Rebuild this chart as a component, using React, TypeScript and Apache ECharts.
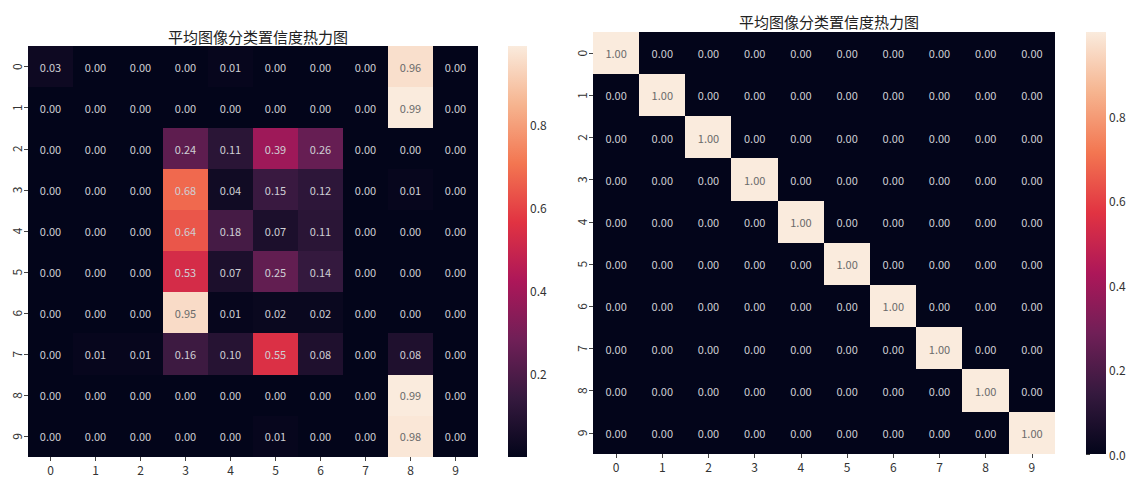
import React, { useEffect, useRef } from "react";
import * as echarts from "echarts";

const TITLE = "平均图像分类置信度热力图";
const classLabels = ["0", "1", "2", "3", "4", "5", "6", "7", "8", "9"];

const leftMatrix: number[][] = [
  [0.03, 0.0, 0.0, 0.0, 0.01, 0.0, 0.0, 0.0, 0.96, 0.0],
  [0.0, 0.0, 0.0, 0.0, 0.0, 0.0, 0.0, 0.0, 0.99, 0.0],
  [0.0, 0.0, 0.0, 0.24, 0.11, 0.39, 0.26, 0.0, 0.0, 0.0],
  [0.0, 0.0, 0.0, 0.68, 0.04, 0.15, 0.12, 0.0, 0.01, 0.0],
  [0.0, 0.0, 0.0, 0.64, 0.18, 0.07, 0.11, 0.0, 0.0, 0.0],
  [0.0, 0.0, 0.0, 0.53, 0.07, 0.25, 0.14, 0.0, 0.0, 0.0],
  [0.0, 0.0, 0.0, 0.95, 0.01, 0.02, 0.02, 0.0, 0.0, 0.0],
  [0.0, 0.01, 0.01, 0.16, 0.1, 0.55, 0.08, 0.0, 0.08, 0.0],
  [0.0, 0.0, 0.0, 0.0, 0.0, 0.0, 0.0, 0.0, 0.99, 0.0],
  [0.0, 0.0, 0.0, 0.0, 0.0, 0.01, 0.0, 0.0, 0.98, 0.0],
];

const rightMatrix: number[][] = [
  [1, 0, 0, 0, 0, 0, 0, 0, 0, 0],
  [0, 1, 0, 0, 0, 0, 0, 0, 0, 0],
  [0, 0, 1, 0, 0, 0, 0, 0, 0, 0],
  [0, 0, 0, 1, 0, 0, 0, 0, 0, 0],
  [0, 0, 0, 0, 1, 0, 0, 0, 0, 0],
  [0, 0, 0, 0, 0, 1, 0, 0, 0, 0],
  [0, 0, 0, 0, 0, 0, 1, 0, 0, 0],
  [0, 0, 0, 0, 0, 0, 0, 1, 0, 0],
  [0, 0, 0, 0, 0, 0, 0, 0, 1, 0],
  [0, 0, 0, 0, 0, 0, 0, 0, 0, 1],
];

const leftRange = [0, 0.99];
const rightRange = [0, 1.0];
const leftColorbarTicks = [0.2, 0.4, 0.6, 0.8];
const rightColorbarTicks = [0.0, 0.2, 0.4, 0.6, 0.8];

const ROCKET = [
  "#03051a",
  "#35193e",
  "#701f57",
  "#ad1759",
  "#e13342",
  "#f37651",
  "#f6b48f",
  "#faebdd",
];

const FONT = "'Noto Sans CJK SC', 'Noto Sans', sans-serif";

function buildData(m: number[][], vmax: number) {
  const out: any[] = [];
  m.forEach((row, y) =>
    row.forEach((v, x) => {
      const light = v / vmax > 0.78;
      out.push({
        value: [x, y, v],
        label: { color: light ? "#6a6a6a" : "#cfcfd4" },
      });
    })
  );
  return out;
}

export default function App() {
  const ref = useRef<HTMLDivElement>(null);
  useEffect(() => {
    if (!ref.current) return;
    const chart = echarts.init(ref.current, undefined, { renderer: "svg" });

    const grids = [
      { left: 28, top: 46, width: 450, height: 411 },
      { left: 508, top: 46, width: 19, height: 411 },
      { left: 593, top: 32, width: 462, height: 422 },
      { left: 1086, top: 32, width: 20, height: 422 },
    ];

    const tickStyle = { show: true, length: 4, lineStyle: { color: "#444", width: 1 } };
    const labelStyle = { color: "#333", fontSize: 12, fontFamily: FONT };

    const heatX = (gi: number) => ({
      type: "category",
      gridIndex: gi,
      data: classLabels,
      axisLine: { show: false },
      axisTick: { ...tickStyle, alignWithLabel: true },
      axisLabel: { ...labelStyle, margin: 6 },
      splitArea: { show: false },
    });
    const heatY = (gi: number) => ({
      type: "category",
      gridIndex: gi,
      data: classLabels,
      inverse: true,
      axisLine: { show: false },
      axisTick: { ...tickStyle, alignWithLabel: true },
      axisLabel: { ...labelStyle, rotate: 90, margin: 6 },
      splitArea: { show: false },
    });
    const cbX = (gi: number) => ({
      type: "value",
      gridIndex: gi,
      show: false,
      min: 0,
      max: 1,
    });
    const cbY = (gi: number, range: number[], ticks: number[]) => ({
      type: "value",
      gridIndex: gi,
      position: "right",
      min: range[0],
      max: range[1],
      axisLine: { show: false },
      splitLine: { show: false },
      axisTick: { ...tickStyle, customValues: ticks },
      axisLabel: {
        ...labelStyle,
        margin: 3,
        customValues: ticks,
        formatter: (v: number) => v.toFixed(1),
      },
    });

    const gradientRect = (params: any) => {
      const cs = params.coordSys;
      return {
        type: "rect",
        shape: { x: cs.x, y: cs.y, width: cs.width, height: cs.height },
        style: {
          fill: new echarts.graphic.LinearGradient(
            0,
            1,
            0,
            0,
            ROCKET.map((c, i) => ({ offset: i / (ROCKET.length - 1), color: c }))
          ),
        },
      };
    };

    const heatLabel = {
      show: true,
      fontSize: 11,
      fontFamily: FONT,
      formatter: (p: any) => Number(p.value[2]).toFixed(2),
    };

    chart.setOption({
      animation: false,
      backgroundColor: "#ffffff",
      title: [
        {
          text: TITLE,
          left: 253,
          top: 24,
          textAlign: "center",
          textStyle: { fontSize: 15, fontWeight: "normal", color: "#222", fontFamily: FONT },
        },
        {
          text: TITLE,
          left: 824,
          top: 9,
          textAlign: "center",
          textStyle: { fontSize: 15, fontWeight: "normal", color: "#222", fontFamily: FONT },
        },
      ],
      grid: grids,
      xAxis: [heatX(0), cbX(1), heatX(2), cbX(3)],
      yAxis: [
        heatY(0),
        cbY(1, leftRange, leftColorbarTicks),
        heatY(2),
        cbY(3, rightRange, rightColorbarTicks),
      ],
      visualMap: [
        {
          type: "continuous",
          show: false,
          seriesIndex: 0,
          min: leftRange[0],
          max: leftRange[1],
          inRange: { color: ROCKET },
        },
        {
          type: "continuous",
          show: false,
          seriesIndex: 2,
          min: rightRange[0],
          max: rightRange[1],
          inRange: { color: ROCKET },
        },
      ],
      series: [
        {
          type: "heatmap",
          xAxisIndex: 0,
          yAxisIndex: 0,
          data: buildData(leftMatrix, leftRange[1]),
          label: heatLabel,
          itemStyle: { borderWidth: 0 },
        },
        {
          type: "custom",
          xAxisIndex: 1,
          yAxisIndex: 1,
          data: [[0, 0]],
          renderItem: gradientRect,
          silent: true,
        },
        {
          type: "heatmap",
          xAxisIndex: 2,
          yAxisIndex: 2,
          data: buildData(rightMatrix, rightRange[1]),
          label: heatLabel,
          itemStyle: { borderWidth: 0 },
        },
        {
          type: "custom",
          xAxisIndex: 3,
          yAxisIndex: 3,
          data: [[0, 0]],
          renderItem: gradientRect,
          silent: true,
        },
      ],
    });
    return () => chart.dispose();
  }, []);

  return (
    <>
      <style>{"#root svg path { shape-rendering: crispEdges; }"}</style>
      <div
        ref={ref}
        style={{ position: "fixed", left: 0, top: 0, width: 1138, height: 479 }}
      />
    </>
  );
}
